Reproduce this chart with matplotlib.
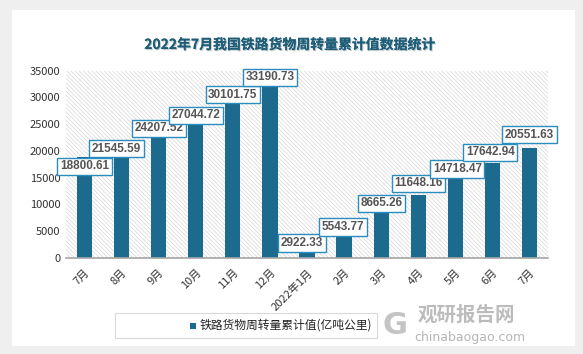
import matplotlib.pyplot as plt
from matplotlib.patches import Rectangle
import matplotlib.patheffects as pe

plt.rcParams['font.family'] = ['Noto Sans CJK SC', 'DejaVu Sans']
plt.rcParams['hatch.linewidth'] = 0.5

months = ["7月", "8月", "9月", "10月", "11月", "12月", "2022年1月",
          "2月", "3月", "4月", "5月", "6月", "7月"]
values = [18800.61, 21545.59, 24207.52, 27044.72, 30101.75, 33190.73, 2922.33,
          5543.77, 8665.26, 11648.16, 14718.47, 17642.94, 20551.63]
y_ticks = [0, 5000, 10000, 15000, 20000, 25000, 30000, 35000]

# label box nudges in pixels (x, y up), reproducing the overlap avoidance
label_dx = [0, -5, 0, 0, 0, 0, -5, -1, 0, 0, 2, -2, 0]
label_dy = [-9, -6, 0, -2, 2, 3, -1, 1, 8, 12, 10, 11, 13]

bar_color = "#1c6a8e"
box_edge = "#2a8cbf"

fig = plt.figure(figsize=(5.83, 3.54), dpi=100)
fig.patch.set_facecolor("#efefef")
# white card
fig.patches.append(Rectangle((12 / 583, 8 / 354), 563 / 583, 336 / 354,
                             transform=fig.transFigure, facecolor="white",
                             edgecolor="none", zorder=-1))

ax = fig.add_axes([66 / 583, 1 - 257.7 / 354, 482 / 583, 187 / 354])
ax.set_zorder(2)
ax.set_facecolor("white")
ax.add_patch(Rectangle((0, 0), 1, 1, transform=ax.transAxes, facecolor="white",
                       edgecolor="#d6d6d6", hatch="\\" * 8, linewidth=0, zorder=0))

x = range(len(months))
ax.bar(x, values, width=0.41, color=bar_color, zorder=2)

ax.set_xlim(-0.5, len(months) - 0.5)
ax.set_ylim(0, 35000)
ax.set_yticks(y_ticks)
ax.set_yticklabels([str(v) for v in y_ticks], fontsize=8, color="#333333")
ax.set_xticks(list(x))
ax.set_xticklabels(months, fontsize=8, color="#333333", rotation=45,
                   ha="right", va="top", rotation_mode="anchor")
ax.tick_params(axis="both", length=0, pad=4)
ax.tick_params(axis="x", pad=7)
for s in ["top", "right", "left"]:
    ax.spines[s].set_visible(False)
ax.spines["bottom"].set_color("#a6a6a6")
ax.spines["bottom"].set_linewidth(1.2)
ax.spines["bottom"].set_zorder(3)

for i, v in enumerate(values):
    ax.annotate(f"{v:.2f}", xy=(i, v), xytext=(label_dx[i] * 0.72, label_dy[i] * 0.72),
                textcoords="offset points", ha="center", va="center",
                fontsize=8.5, fontweight="bold", color="#555555", zorder=5,
                family="Liberation Sans",
                bbox=dict(boxstyle="square,pad=0.22", facecolor="white",
                          edgecolor=box_edge, linewidth=1.0))

fig.text(0.497, 1 - 45 / 354, "2022年7月我国铁路货物周转量累计值数据统计",
         ha="center", va="center", fontsize=10, fontweight="bold", color="#1d5d78",
         path_effects=[pe.withSimplePatchShadow(offset=(0.8, -0.8),
                                                shadow_rgbFace="#9aa7ad", alpha=0.6),
                       pe.Normal()])

# legend
fig.patches.append(Rectangle((115 / 583, 1 - 338 / 354), 262 / 583, 25 / 354,
                             transform=fig.transFigure, facecolor="white",
                             edgecolor="#d9d9d9", linewidth=0.8, zorder=1))
fig.patches.append(Rectangle((190 / 583, 1 - 329 / 354), 6 / 583, 6 / 354,
                             transform=fig.transFigure, facecolor=bar_color,
                             edgecolor="none", zorder=2))
fig.text(200 / 583, 1 - 325.5 / 354, "铁路货物周转量累计值(亿吨公里)",
         ha="left", va="center", fontsize=8.5, color="#222222")

# watermark
fig.text(418 / 583, 1 - 315 / 354, "观研报告网", ha="left", va="center",
         fontsize=14, fontweight="bold", color="#b5b5b5", alpha=0.9)
fig.text(414 / 583, 1 - 337 / 354, "chinabaogao.com", ha="left", va="center",
         fontsize=9, color="#b5b5b5", family="DejaVu Sans")
fig.text(395 / 583, 1 - 325 / 354, "G", ha="center", va="center",
         fontsize=22, fontweight="bold", color="#c4c4c4", family="DejaVu Sans")

fig.savefig("out.png", dpi=100)
